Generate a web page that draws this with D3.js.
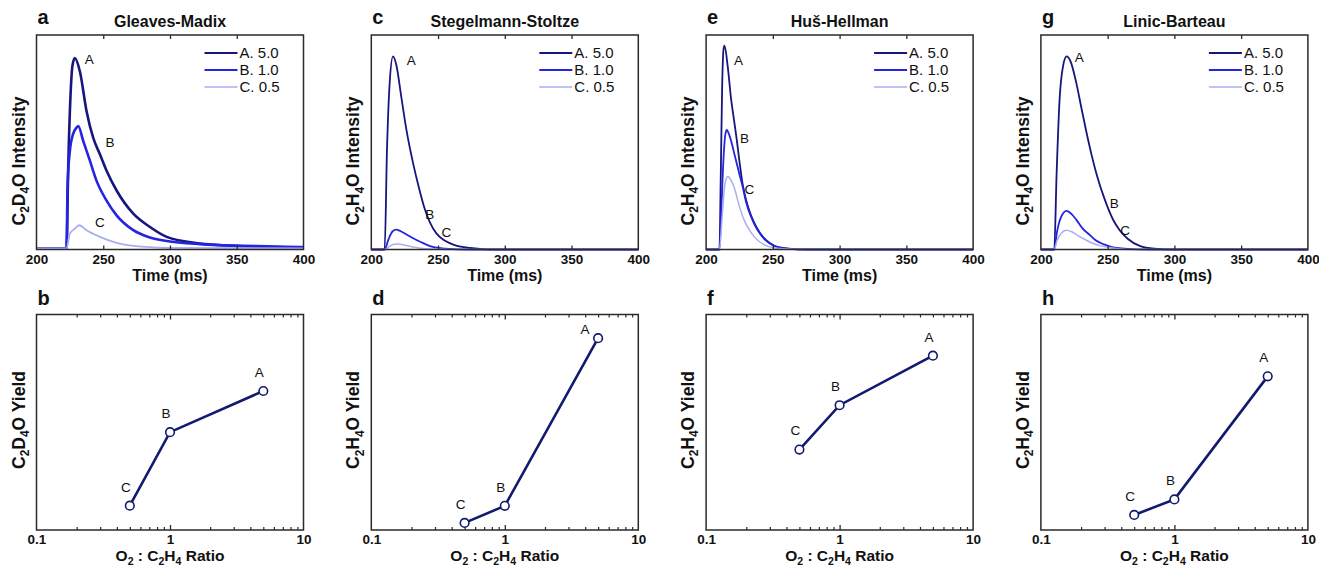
<!DOCTYPE html>
<html>
<head>
<meta charset="utf-8">
<script src="https://cdn.jsdelivr.net/npm/d3@7"></script>
<style>
  body { margin: 0; background: #fff; }
  text { font-family: "Liberation Sans", Arial, sans-serif; fill: #111; }
</style>
</head>
<body>
<script>
// panel names and labels
const titles = ["Gleaves-Madix", "Stegelmann-Stoltze", "Huš-Hellman", "Linic-Barteau"];
const topLetters = ["a", "c", "e", "g"];
const bottomLetters = ["b", "d", "f", "h"];
const isotope = ["D", "H", "H", "H"];
const seriesNames = ["A. 5.0", "B. 1.0", "C. 0.5"];
const pointNames = ["A", "B", "C"];
const ratios = [5.0, 1.0, 0.5];
const timeTicks = [200, 250, 300, 350, 400];
const ratioTicks = [0.1, 1, 10];

// transient curves, [time (ms), normalised intensity]
const gmA = [[200,0.005],[215,0.005],[222.5,0.005],[223.75,0.38],[225.5,0.72],[227,0.86],[228.75,0.892],[232.5,0.83],[237.5,0.645],[242.5,0.52],[247.5,0.444],[252.5,0.367],[260,0.275],[272.5,0.167],[285,0.105],[297.5,0.059],[322.5,0.028],[347.5,0.017],[372.5,0.012],[397.5,0.009],[400,0.009]];
const gmB = [[200,0.005],[222.5,0.005],[223.25,0.29],[225,0.46],[227.5,0.54],[230,0.568],[231.25,0.576],[235,0.506],[240,0.414],[245,0.32],[252.5,0.228],[260,0.159],[272.5,0.09],[285,0.056],[297.5,0.04],[322.5,0.025],[347.5,0.018],[372.5,0.015],[397.5,0.012],[400,0.012]];
const gmC = [[200,0.005],[222.5,0.005],[225,0.074],[228.75,0.097],[232,0.113],[237.5,0.09],[247.5,0.059],[260,0.031],[272.5,0.017],[297.5,0.008],[400,0.005]];

const ssA = [[200,0],[210,0],[211.75,0.465],[213.75,0.775],[216.25,0.9],[218.75,0.86],[222.5,0.71],[226.25,0.56],[231.75,0.39],[236,0.28],[240,0.19],[244,0.125],[248.75,0.075],[254,0.045],[258.75,0.03],[265,0.016],[273.75,0.007],[285,0.001],[295,0],[400,0]];
const ssB = [[200,0],[210,0],[213,0.05],[216,0.085],[218.75,0.093],[222,0.085],[227,0.068],[231,0.054],[237,0.035],[244,0.016],[252,0.006],[265,0.001],[280,0],[400,0]];
const ssC = [[200,0],[210,0],[214,0.016],[217,0.024],[220,0.026],[224,0.022],[230,0.013],[237,0.006],[245,0.002],[260,0],[400,0]];

const hhA = [[200,0],[210,0],[211,0.35],[212,0.75],[213,0.93],[213.75,0.95],[216.25,0.85],[218.75,0.7],[221,0.6],[223,0.51],[225,0.41],[227.5,0.3],[230,0.23],[233,0.17],[236,0.125],[240,0.08],[245,0.043],[250,0.021],[255,0.01],[262,0.004],[275,0],[400,0]];
const hhB = [[200,0],[210,0],[211.5,0.2],[213,0.42],[214.5,0.54],[215.5,0.557],[217,0.54],[219,0.5],[221,0.45],[223,0.4],[225,0.35],[227.5,0.29],[230,0.22],[233,0.163],[236,0.12],[240,0.077],[245,0.041],[250,0.02],[255,0.009],[262,0.003],[275,0],[400,0]];
const hhC = [[200,0],[210,0],[212,0.15],[214,0.3],[216.25,0.34],[218,0.33],[221,0.29],[225,0.2],[229,0.13],[232.5,0.09],[236,0.06],[240,0.036],[245,0.018],[250,0.009],[258,0.003],[270,0],[400,0]];

const lbA = [[200,0],[210,0],[211.75,0.35],[214,0.7],[216.75,0.86],[219.25,0.9],[222,0.88],[226.75,0.77],[230,0.67],[234,0.55],[238,0.44],[241.75,0.35],[248,0.23],[254,0.14],[259,0.09],[265,0.05],[274,0.017],[285,0.004],[300,0],[400,0]];
const lbB = [[200,0],[210,0],[212,0.08],[215,0.15],[219.25,0.18],[223,0.165],[226.75,0.137],[231,0.1],[236.75,0.067],[241,0.043],[246.75,0.025],[252,0.014],[256.75,0.008],[265,0.003],[280,0],[400,0]];
const lbC = [[200,0],[210,0],[212,0.04],[215,0.075],[219.25,0.09],[223,0.083],[227,0.068],[232,0.05],[237,0.034],[244,0.018],[250,0.01],[258,0.004],[270,0],[400,0]];

// curve label anchors [time, intensity] for A, B, C
const gmLabels = [[239.5,0.888],[255,0.5],[247.5,0.128]];
const ssLabels = [[230,0.884],[243.75,0.163],[256.25,0.08]];
const hhLabels = [[224.25,0.883],[228.75,0.518],[232.5,0.28]];
const lbLabels = [[228.75,0.896],[255,0.218],[263,0.09]];

// yields for A (5.0), B (1.0), C (0.5)
const gmYield = [0.645, 0.454, 0.113];
const ssYield = [0.89, 0.112, 0.033];
const hhYield = [0.809, 0.579, 0.373];
const lbYield = [0.713, 0.142, 0.07];

const transients = [[gmA, gmB, gmC], [ssA, ssB, ssC], [hhA, hhB, hhC], [lbA, lbB, lbC]];
const curveLabels = [gmLabels, ssLabels, hhLabels, lbLabels];
const yields = [gmYield, ssYield, hhYield, lbYield];

const colors = ["#16167c", "#2424e2", "#a9aef2"];
const lineNavy = "#111a70";

var svg = d3.select("body").append("svg")
    .attr("width", 1319)
    .attr("height", 567);

var pw = 267;
var topY0 = 35, topY1 = 249.5;
var botY0 = 314.5, botY1 = 530;

function frame(g, x0, y0, w, h) {
  g.append("rect")
    .attr("x", x0).attr("y", y0).attr("width", w).attr("height", h)
    .attr("fill", "none").attr("stroke", "#2a2a2a").attr("stroke-width", 1.5);
}

// text with subscripts: parts = [[string, isSub], ...]
function subText(sel, parts, size) {
  parts.forEach(function(p, i) {
    var prevSub = i > 0 && parts[i - 1][1];
    var t = sel.append("tspan").text(p[0]);
    if (p[1]) {
      t.attr("font-size", size * 0.68).attr("dy", size * 0.25);
    } else {
      t.attr("font-size", size);
      if (prevSub) t.attr("dy", -size * 0.25);
    }
  });
}

for (let i = 0; i < 4; i++) {
  var left = 36.5 + i * 334.8;

  // ---------- top: transients ----------
  var x = d3.scaleLinear().domain([200, 400]).range([left, left + pw]);
  var y = d3.scaleLinear().domain([0, 1]).range([topY1, topY0]);
  var g = svg.append("g");

  var line = d3.line()
    .x(function(d) { return x(d[0]); })
    .y(function(d) { return y(d[1]); })
    .curve(d3.curveMonotoneX);

  transients[i].forEach(function(s, k) {
    g.append("path")
      .datum(s)
      .attr("d", line)
      .attr("fill", "none")
      .attr("stroke", colors[k])
      .attr("stroke-width", i === 0 ? (k === 2 ? 1.8 : 2.6) : (k === 2 ? 1.5 : 1.8))
      .attr("stroke-linejoin", "round");
  });

  curveLabels[i].forEach(function(p, k) {
    g.append("text")
      .attr("x", x(p[0])).attr("y", y(p[1]))
      .attr("dy", "0.36em")
      .attr("text-anchor", "middle")
      .attr("font-size", 13.5)
      .text(pointNames[k]);
  });

  // inward ticks top & bottom
  g.append("g")
    .attr("transform", "translate(0," + topY1 + ")")
    .call(d3.axisBottom(x).tickValues([250, 300, 350]).tickSizeInner(-4).tickSizeOuter(0).tickFormat(""))
    .call(function(a) { a.select(".domain").remove(); a.selectAll("line").attr("stroke", "#2a2a2a").attr("stroke-width", 1.3); });
  g.append("g")
    .attr("transform", "translate(0," + topY0 + ")")
    .call(d3.axisTop(x).tickValues([250, 300, 350]).tickSizeInner(-4).tickSizeOuter(0).tickFormat(""))
    .call(function(a) { a.select(".domain").remove(); a.selectAll("line").attr("stroke", "#2a2a2a").attr("stroke-width", 1.3); });

  // tick labels
  g.append("g")
    .attr("transform", "translate(0," + topY1 + ")")
    .call(d3.axisBottom(x).tickValues(timeTicks).tickSize(0).tickPadding(5).tickFormat(d3.format("d")))
    .call(function(a) {
      a.select(".domain").remove();
      a.selectAll("text").attr("font-size", 13.5).attr("font-weight", "bold")
        .attr("font-family", '"Liberation Sans", Arial, sans-serif').attr("fill", "#111");
    });

  frame(g, left, topY0, pw, topY1 - topY0);

  // legend
  seriesNames.forEach(function(name, k) {
    var ly = topY0 + 18 + k * 17;
    g.append("line")
      .attr("x1", left + 168).attr("x2", left + 201)
      .attr("y1", ly).attr("y2", ly)
      .attr("stroke", colors[k]).attr("stroke-width", k === 2 ? 1.6 : 2);
    g.append("text")
      .attr("x", left + 203).attr("y", ly).attr("dy", "0.36em")
      .attr("font-size", 15)
      .text(name);
  });

  // title, letter, axis titles
  g.append("text")
    .attr("x", left + pw / 2).attr("y", 27)
    .attr("text-anchor", "middle")
    .attr("font-size", 16).attr("font-weight", "bold")
    .text(titles[i]);
  g.append("text")
    .attr("x", left + 1).attr("y", 24)
    .attr("font-size", 20).attr("font-weight", "bold")
    .text(topLetters[i]);
  g.append("text")
    .attr("x", left + pw / 2).attr("y", 281)
    .attr("text-anchor", "middle")
    .attr("font-size", 16).attr("font-weight", "bold")
    .text("Time (ms)");
  var yl = g.append("text")
    .attr("transform", "translate(" + (left - 12) + "," + 161 + ") rotate(-90)")
    .attr("text-anchor", "middle")
    .attr("font-weight", "bold");
  subText(yl, [["C", 0], ["2", 1], [isotope[i], 0], ["4", 1], ["O Intensity", 0]], 17.5);

  // ---------- bottom: yield vs ratio ----------
  var xr = d3.scaleLog().domain([0.1, 10]).range([left, left + pw]);
  var yr = d3.scaleLinear().domain([0, 1]).range([botY1, botY0]);
  var gb = svg.append("g");

  var minor = [0.2, 0.3, 0.4, 0.5, 0.6, 0.7, 0.8, 0.9, 2, 3, 4, 5, 6, 7, 8, 9];
  [[botY1, d3.axisBottom], [botY0, d3.axisTop]].forEach(function(a) {
    gb.append("g")
      .attr("transform", "translate(0," + a[0] + ")")
      .call(a[1](xr).tickValues(minor).tickSizeInner(-3).tickSizeOuter(0).tickFormat(""))
      .call(function(s) { s.select(".domain").remove(); s.selectAll("line").attr("stroke", "#2a2a2a").attr("stroke-width", 1.2); });
    gb.append("g")
      .attr("transform", "translate(0," + a[0] + ")")
      .call(a[1](xr).tickValues([1]).tickSizeInner(-5).tickSizeOuter(0).tickFormat(""))
      .call(function(s) { s.select(".domain").remove(); s.selectAll("line").attr("stroke", "#2a2a2a").attr("stroke-width", 1.3); });
  });

  gb.append("g")
    .attr("transform", "translate(0," + botY1 + ")")
    .call(d3.axisBottom(xr).tickValues(ratioTicks).tickSize(0).tickPadding(4).tickFormat(function(d) { return String(d); }))
    .call(function(a) {
      a.select(".domain").remove();
      a.selectAll("text").attr("font-size", 13.5).attr("font-weight", "bold")
        .attr("font-family", '"Liberation Sans", Arial, sans-serif').attr("fill", "#111");
    });

  frame(gb, left, botY0, pw, botY1 - botY0);

  var pts = ratios.map(function(r, k) { return [r, yields[i][k]]; });
  var pline = d3.line()
    .x(function(d) { return xr(d[0]); })
    .y(function(d) { return yr(d[1]); });
  gb.append("path")
    .datum(pts)
    .attr("d", pline)
    .attr("fill", "none")
    .attr("stroke", lineNavy)
    .attr("stroke-width", 2.6);
  gb.selectAll("circle").data(pts).enter().append("circle")
    .attr("cx", function(d) { return xr(d[0]); })
    .attr("cy", function(d) { return yr(d[1]); })
    .attr("r", 4.3)
    .attr("fill", "#fff")
    .attr("stroke", lineNavy)
    .attr("stroke-width", 1.6);
  pts.forEach(function(d, k) {
    var nudge = (i === 1 && k === 0) ? [-13, -9] : [-4, -19];
    gb.append("text")
      .attr("x", xr(d[0]) + nudge[0]).attr("y", yr(d[1]) + nudge[1])
      .attr("dy", "0.36em")
      .attr("text-anchor", "middle")
      .attr("font-size", 13.5)
      .text(pointNames[k]);
  });

  gb.append("text")
    .attr("x", left + 1).attr("y", 305)
    .attr("font-size", 20).attr("font-weight", "bold")
    .text(bottomLetters[i]);
  var xl = gb.append("text")
    .attr("x", left + pw / 2).attr("y", 561)
    .attr("text-anchor", "middle")
    .attr("font-weight", "bold");
  subText(xl, [["O", 0], ["2", 1], [" : C", 0], ["2", 1], ["H", 0], ["4", 1], [" Ratio", 0]], 15.5);
  var yl2 = gb.append("text")
    .attr("transform", "translate(" + (left - 12) + "," + 420 + ") rotate(-90)")
    .attr("text-anchor", "middle")
    .attr("font-weight", "bold");
  subText(yl2, [["C", 0], ["2", 1], [isotope[i], 0], ["4", 1], ["O Yield", 0]], 17.5);
}
</script>
</body>
</html>
